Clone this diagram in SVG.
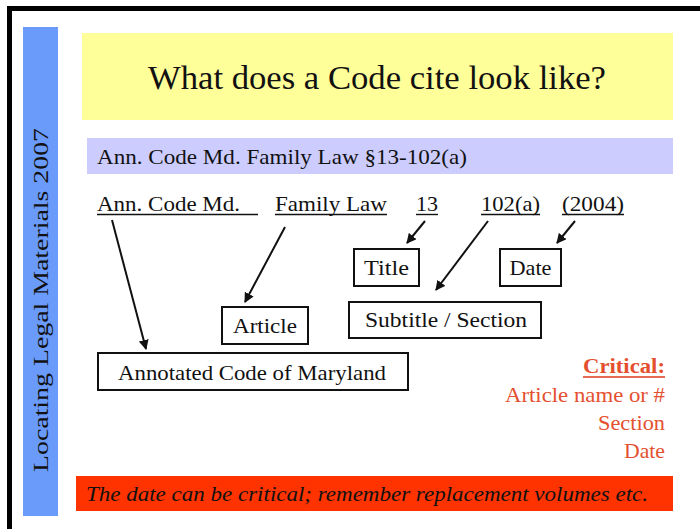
<svg xmlns="http://www.w3.org/2000/svg" width="700" height="529" viewBox="0 0 700 529">
<style>
.t{font-family:'Liberation Serif','Times New Roman',serif;fill:#111}
.box{fill:#fff;stroke:#111;stroke-width:2}
.ln{stroke:#111;stroke-width:2;fill:none;marker-end:url(#ah)}
.red{font-family:'Liberation Serif','Times New Roman',serif;fill:#E4502F;font-size:22px;text-anchor:end}
</style>
<defs>
<marker id="ah" viewBox="0 0 10 10" refX="9" refY="5" markerWidth="5" markerHeight="5" orient="auto" markerUnits="strokeWidth">
<path d="M0,0 L10,5 L0,10 z" fill="#111"/>
</marker>
</defs>
<rect width="700" height="529" fill="#fff"/>
<rect x="9.5" y="8.5" width="700" height="540" fill="none" stroke="#000" stroke-width="5"/>
<g id="sidebar">
<rect x="23" y="27" width="35" height="489" fill="#6A9BFB"/>
<text class="t" font-family="Liberation Serif" transform="translate(48,300) rotate(-90)" text-anchor="middle" font-size="22" textLength="344" lengthAdjust="spacingAndGlyphs">Locating Legal Materials 2007</text>
</g>
<g id="title">
<rect x="82" y="33" width="591" height="87" fill="#FFFF99"/>
<text class="t" font-family="Liberation Serif" x="377" y="89" text-anchor="middle" font-size="34" textLength="458" lengthAdjust="spacingAndGlyphs">What does a Code cite look like?</text>
</g>
<g id="cite">
<rect x="87" y="138" width="586" height="36" fill="#CCCCFF"/>
<text class="t" font-family="Liberation Serif" x="97" y="164" font-size="22" textLength="370" lengthAdjust="spacingAndGlyphs">Ann. Code Md. Family Law §13-102(a)</text>
</g>
<g id="parts" font-size="22" font-family="Liberation Serif">
<text class="t" x="97" y="211" textLength="143" lengthAdjust="spacingAndGlyphs">Ann. Code Md.</text>
<line x1="97" y1="214.5" x2="258" y2="214.5" stroke="#111" stroke-width="1.4"/>
<text class="t" x="275" y="211" textLength="112" lengthAdjust="spacingAndGlyphs">Family Law</text>
<line x1="275" y1="214.5" x2="387" y2="214.5" stroke="#111" stroke-width="1.4"/>
<text class="t" x="416" y="211" textLength="22" lengthAdjust="spacingAndGlyphs">13</text>
<line x1="416" y1="214.5" x2="438" y2="214.5" stroke="#111" stroke-width="1.4"/>
<text class="t" x="481" y="211" textLength="59" lengthAdjust="spacingAndGlyphs">102(a)</text>
<line x1="481" y1="214.5" x2="540" y2="214.5" stroke="#111" stroke-width="1.4"/>
<text class="t" x="562" y="211" textLength="62" lengthAdjust="spacingAndGlyphs">(2004)</text>
<line x1="562" y1="214.5" x2="624" y2="214.5" stroke="#111" stroke-width="1.4"/>
</g>
<g id="node-title"><rect class="box" x="354" y="249" width="65" height="37"/><text class="t" x="386.5" y="275" text-anchor="middle" font-size="22" textLength="45" lengthAdjust="spacingAndGlyphs">Title</text></g>
<g id="node-date"><rect class="box" x="500" y="249" width="61" height="37"/><text class="t" x="530.5" y="275" text-anchor="middle" font-size="22" textLength="42" lengthAdjust="spacingAndGlyphs">Date</text></g>
<g id="node-article"><rect class="box" x="222" y="307" width="86" height="37"/><text class="t" x="265" y="333" text-anchor="middle" font-size="22" textLength="64" lengthAdjust="spacingAndGlyphs">Article</text></g>
<g id="node-section"><rect class="box" x="349" y="302" width="192" height="36"/><text class="t" x="446" y="327" text-anchor="middle" font-size="22" textLength="162" lengthAdjust="spacingAndGlyphs">Subtitle / Section</text></g>
<g id="node-annotated"><rect class="box" x="98" y="353" width="310" height="37"/><text class="t" x="252" y="380" text-anchor="middle" font-size="22" textLength="268" lengthAdjust="spacingAndGlyphs">Annotated Code of Maryland</text></g>
<g id="connectors">
<line class="ln" x1="112" y1="220" x2="146" y2="349"/>
<line class="ln" x1="285" y1="227" x2="245" y2="302"/>
<line class="ln" x1="425" y1="221" x2="407" y2="243"/>
<line class="ln" x1="488" y1="221" x2="436" y2="290"/>
<line class="ln" x1="575" y1="221" x2="557" y2="243"/>
</g>
<g id="critical">
<text class="red" x="665" y="373" font-weight="bold" fill="#DD3A1C" textLength="82" lengthAdjust="spacingAndGlyphs">Critical:</text>
<line x1="583" y1="377" x2="665" y2="377" stroke="#DD3A1C" stroke-width="1.6"/>
<text class="red" x="665" y="402" textLength="160" lengthAdjust="spacingAndGlyphs">Article name or #</text>
<text class="red" x="665" y="430" textLength="67" lengthAdjust="spacingAndGlyphs">Section</text>
<text class="red" x="665" y="458" textLength="41" lengthAdjust="spacingAndGlyphs">Date</text>
</g>
<g id="footer">
<rect x="76" y="476" width="597" height="35" fill="#FF3300"/>
<text class="t" x="86" y="501" font-size="22" font-style="italic" fill="#2a0800" textLength="562" lengthAdjust="spacingAndGlyphs">The date can be critical; remember replacement volumes etc.</text>
</g>
</svg>
